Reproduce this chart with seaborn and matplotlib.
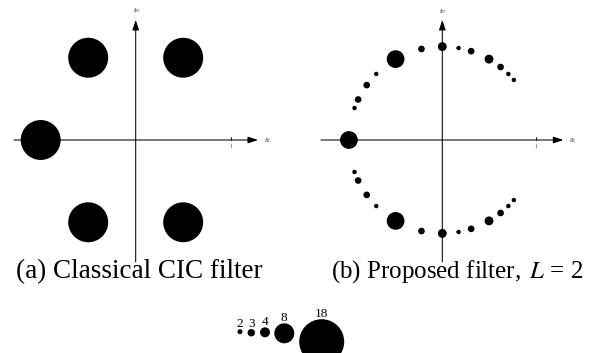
import numpy as np
import pandas as pd
import matplotlib
matplotlib.use("Agg")
import matplotlib.pyplot as plt
import seaborn as sns

# ---- data: zero locations (angle on unit circle, degrees) and multiplicities ----
cic_angles = [60, 120, 180, 240, 300]
cic_mult = [18, 18, 18, 18, 18]

prop_angles_upper = [40, 45, 51.4, 60, 72, 80, 90, 102.9, 120, 135, 144, 154.3, 160]
prop_mult_upper = [2, 2, 3, 4, 3, 2, 4, 3, 8, 2, 3, 3, 2]
prop_angle_real = [180]
prop_mult_real = [8]

legend_mult = [2, 3, 4, 8, 18]
captions = ["(a) Classical CIC filter", "(b) Proposed filter, $\\,L$ = 2"]

plt.rcParams["font.family"] = ["Liberation Serif", "DejaVu Serif"]
plt.rcParams["mathtext.fontset"] = "stix"

W, H = 589, 353
fig = plt.figure(figsize=(W / 100, H / 100), dpi=100)

PX_PER_MULT = 2.22  # marker diameter in px per multiplicity


def size_map(mults, k):
    return {m: (k * m * 0.72) ** 2 for m in sorted(set(mults))}


def zero_frame(angles, mults):
    a = np.deg2rad(np.asarray(angles, dtype=float))
    return pd.DataFrame({"x": np.cos(a), "y": np.sin(a), "m": mults})


def draw_panel(rect_px, origin_px, unit, df, hspan, vspan, re_x, im_y):
    x0, y0, w, h = rect_px
    ax = fig.add_axes([x0 / W, 1 - (y0 + h) / H, w / W, h / H])
    ox, oy = origin_px
    ax.axis("off")
    ap = dict(arrowstyle="-|>,head_length=0.6,head_width=0.2", lw=0.75,
              color="black", shrinkA=0, shrinkB=0, mutation_scale=10)
    ax.annotate("", xy=(hspan[1], 0), xytext=(hspan[0], 0), arrowprops=ap, zorder=1)
    ax.annotate("", xy=(0, vspan[1]), xytext=(0, vspan[0]), arrowprops=ap, zorder=1)
    # tick at 1
    ax.plot([1, 1], [0, 3.0 / unit], color="black", lw=0.6, zorder=1)
    ax.text(1, -6.0 / unit, "1", fontsize=4, ha="center", va="center", color="#444444")
    ax.text(re_x, 0, "Re", fontsize=4, style="italic", ha="center", va="center", color="#444444")
    ax.text(0, im_y, "Im", fontsize=4, style="italic", ha="center", va="center", color="#444444")
    sns.scatterplot(data=df, x="x", y="y", size="m", sizes=size_map(df["m"], PX_PER_MULT),
                    color="black", linewidth=0, legend=False, ax=ax, zorder=3)
    ax.set_xlabel("")
    ax.set_ylabel("")
    ax.set_xlim((x0 - ox) / unit, (x0 + w - ox) / unit)
    ax.set_ylim((oy - (y0 + h)) / unit, (oy - y0) / unit)
    return ax


# panel (a)
df_a = zero_frame(cic_angles, cic_mult)
draw_panel((0, 0, 292, 270), (135.7, 140), 95.0, df_a,
           (-1.281, 1.287), (-1.284, 1.263), 1.382, 1.358)

# panel (b): upper half, conjugates, and real zero
ang_b = prop_angles_upper + [-a for a in prop_angles_upper] + prop_angle_real
mult_b = prop_mult_upper + prop_mult_upper + prop_mult_real
df_b = zero_frame(ang_b, mult_b)
draw_panel((295, 0, 294, 270), (442.3, 140), 93.4, df_b,
           (-1.299, 1.296), (-1.306, 1.285), 1.385, 1.381)

# overlay axes in pixel coordinates for captions & size legend
ov = fig.add_axes([0, 0, 1, 1])
ov.axis("off")
ov.text(139, 271.5, captions[0], fontsize=19.5, ha="center", va="center")
ov.text(331, 271.5, captions[1], fontsize=18, ha="left", va="center")

leg_x = [240, 251.3, 265, 284.3, 321.7]
leg_y = [331.7, 332.7, 332.3, 333.3, 341.7]
df_leg = pd.DataFrame({"x": leg_x, "y": leg_y, "m": legend_mult})
sns.scatterplot(data=df_leg, x="x", y="y", size="m", sizes=size_map(legend_mult, 2.5),
                color="black", linewidth=0, legend=False, ax=ov, zorder=3)
ov.set_xlim(0, W)
ov.set_ylim(H, 0)
ov.set_xlabel("")
ov.set_ylabel("")
for xx, yy, m in zip(leg_x, leg_y, legend_mult):
    r = 2.5 * m / 2
    ov.text(xx, yy - r + 1.0, str(m), fontsize=9.5, ha="center", va="bottom")

fig.savefig("out.png", dpi=100)
